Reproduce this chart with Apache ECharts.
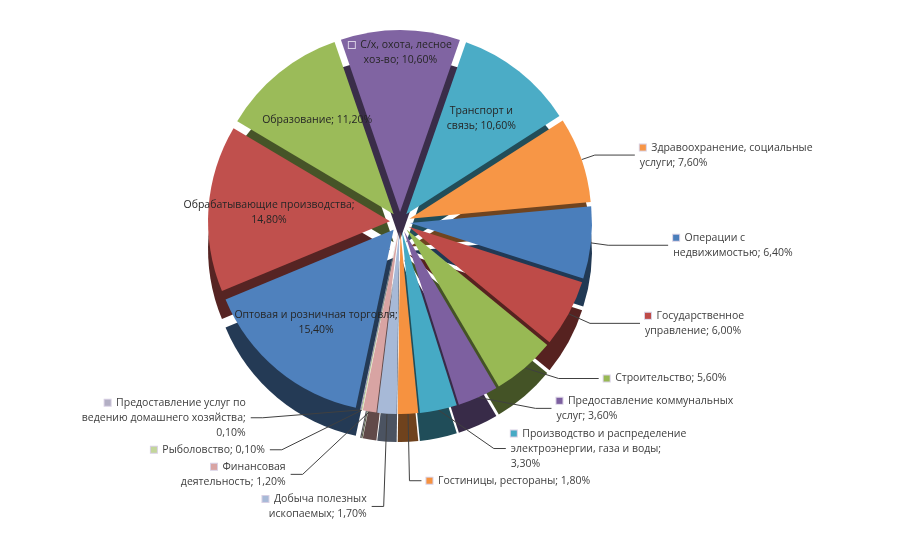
<!DOCTYPE html>
<html>
<head>
<meta charset="utf-8">
<script src="https://cdn.jsdelivr.net/npm/echarts@6/dist/echarts.min.js"></script>
<style>
  html, body { margin: 0; padding: 0; background: #fff; }
  #main { width: 906px; height: 548px; }
</style>
</head>
<body>
<div id="main"></div>
<script>
// sectors of the economy, share in %
var categories = [
  'Оптовая и розничная торговля',
  'Обрабатывающие производства',
  'Образование',
  'С/х, охота, лесное\nхоз-во',
  'Транспорт и\nсвязь',
  'Здравоохранение, социальные\nуслуги',
  'Операции с\nнедвижимостью',
  'Государственное\nуправление',
  'Строительство',
  'Предоставление коммунальных\nуслуг',
  'Производство и распределение\nэлектроэнергии, газа и воды',
  'Гостиницы, рестораны',
  'Добыча полезных\nископаемых',
  'Финансовая\nдеятельность',
  'Рыболовство',
  'Предоставление услуг по\nведению домашнего хозяйства'
];
var shares = [15.4, 14.8, 11.2, 10.6, 10.6, 7.6, 6.4, 6.0, 5.6, 3.6, 3.3, 1.8, 1.7, 1.2, 0.1, 0.1];
// text between "name;" and the value
var valueSep = ['\n', '\n', ' ', ' ', ' ', ' ', ' ', ' ', ' ', ' ', '\n', ' ', ' ', ' ', ' ', '\n'];
var colors = ['#4F81BD', '#C0504D', '#9BBB59', '#8064A2', '#4BACC6', '#F79646',
              '#4A7EBB', '#BE4B48', '#98B954', '#7D60A0', '#46AAC5', '#F69240',
              '#A7B9D7', '#D8A4A3', '#C3D69B', '#B3AFC4'];
var insideMid = [0, 1, 2, 4];   // labels drawn in the middle of the slice
var insideEdge = [3];           // label drawn near the rim
var keyed = [3, 5, 6, 7, 8, 9, 10, 11, 12, 13, 14, 15];
// leader line lengths for the outside labels
var lineLen = [0, 0, 0, 0, 0, 14, 22, 20, 14, 12, 14, 34, 48, 30, 16, 8];
var lineLen2 = [0, 0, 0, 0, 0, 40, 60, 50, 40, 16, 12, 12, 12, 12, 12, 12];

function darken(hex, k) {
  var n = parseInt(hex.slice(1), 16);
  var r = Math.round(((n >> 16) & 255) * k);
  var g = Math.round(((n >> 8) & 255) * k);
  var b = Math.round((n & 255) * k);
  return 'rgb(' + r + ',' + g + ',' + b + ')';
}

function labelText(i) {
  var v = shares[i].toFixed(2).replace('.', ',') + '%';
  var txt = categories[i] + ';' + valueSep[i] + v;
  if (keyed.indexOf(i) >= 0) txt = '{k|}  ' + txt;
  return txt;
}

function keyStyle(i) {
  return { k: { width: 6, height: 6, backgroundColor: colors[i], borderColor: '#d8d0e4', borderWidth: 1 } };
}

var R = 182;
var cx = 400, cy = 222;
var depth = 28;
var common = {
  type: 'pie',
  startAngle: 258,
  selectedMode: 'multiple',
  selectedOffset: 10,
  select: { itemStyle: {} },
  animation: false
};
var labelFont = { fontFamily: 'Open Sans', fontSize: 10.5, lineHeight: 15, align: 'center' };

function pieSeries(extra) {
  return Object.assign({}, common, extra);
}

var outside = [];
for (var i = 5; i < shares.length; i++) outside.push(i);

var topData = shares.map(function (v, i) {
  var out = outside.indexOf(i) >= 0;
  return {
    name: categories[i],
    value: v,
    selected: true,
    itemStyle: { color: colors[i] },
    label: {
      show: out,
      position: 'outside',
      formatter: labelText(i),
      color: '#404040',
      rich: keyStyle(i)
    },
    labelLine: { show: out, length: lineLen[i], length2: lineLen2[i] }
  };
});

var sideData = shares.map(function (v, i) {
  return {
    name: categories[i],
    value: v,
    selected: true,
    itemStyle: { color: darken(colors[i], 0.45) }
  };
});

// transparent rings that only carry the in-slice labels
function labelRing(list) {
  return shares.map(function (v, i) {
    var on = list.indexOf(i) >= 0;
    return {
      name: categories[i],
      value: v,
      selected: true,
      itemStyle: { color: 'rgba(0,0,0,0)' },
      label: {
        show: on,
        position: 'inside',
        formatter: labelText(i),
        color: '#262626',
        rich: keyStyle(i)
      }
    };
  });
}

var chart = echarts.init(document.getElementById('main'));
chart.setOption({
  backgroundColor: '#fff',
  animation: false,
  series: [
    pieSeries({
      z: 1, silent: true,
      center: [cx, cy + depth], radius: R,
      label: { show: false }, labelLine: { show: false },
      data: sideData
    }),
    pieSeries({
      z: 2,
      center: [cx, cy], radius: R,
      label: labelFont,
      labelLine: { lineStyle: { color: '#404040', width: 1 } },
      data: topData
    }),
    pieSeries({
      z: 3, silent: true, avoidLabelOverlap: false,
      center: [cx, cy], radius: [R * 0.3, R],
      label: labelFont, labelLine: { show: false },
      data: labelRing(insideMid)
    }),
    pieSeries({
      z: 3, silent: true, avoidLabelOverlap: false,
      center: [cx, cy], radius: [R * 0.72, R],
      label: labelFont, labelLine: { show: false },
      data: labelRing(insideEdge)
    })
  ]
});
</script>
</body>
</html>
